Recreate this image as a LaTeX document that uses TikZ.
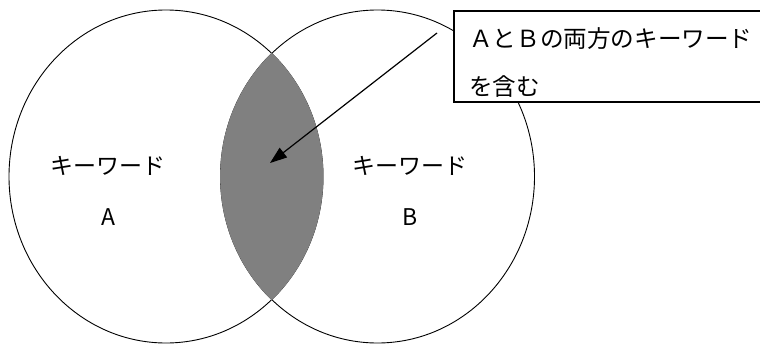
\documentclass[tikz,border=0pt]{standalone}
\usepackage{fontspec}
\setmainfont{Noto Sans CJK JP}
\usetikzlibrary{shapes.geometric,arrows.meta}
\definecolor{lensgray}{HTML}{808080}
\begin{document}
\begin{tikzpicture}[x=1pt,y=-1pt,
  venn/.style={ellipse, draw=black, line width=0.9pt, inner sep=0pt, minimum width=314pt, minimum height=333pt},
  lbl/.style={font=\fontsize{23}{27}\selectfont, inner sep=0pt},
  notelbl/.style={font=\fontsize{23.6}{27}\selectfont, inner sep=0pt, anchor=west},
  notebox/.style={draw=black, line width=1.6pt, fill=white, inner sep=0pt, anchor=north west, minimum width=312pt, minimum height=91pt},
  pointer/.style={draw=black, line width=1.2pt, -{Triangle[length=17pt,width=12pt]}}]
\useasboundingbox (0,0) rectangle (760,345);
\fill[white] (0,0) rectangle (760,345);
% circles
\node[venn] (A) at (166,176.5) {};
\node[venn] (B) at (377.5,176.5) {};
% intersection
\begin{scope}
  \clip (166,176.5) ellipse [x radius=157.4, y radius=166.9];
  \fill[lensgray] (377.5,176.5) ellipse [x radius=157.4, y radius=166.9];
\end{scope}
% labels
\node[lbl] (ka) at (108,166) {キーワード};
\node[lbl] (la) at (108,217) {A};
\node[lbl] (kb) at (410,166) {キーワード};
\node[lbl] (lb) at (410,217) {B};
% callout
\node[notebox] (note) at (453,10) {};
\node[notelbl] (t1) at (469,39) {ＡとＢの両方のキーワード};
\node[notelbl] (t2) at (469,87) {を含む};
% arrow
\coordinate (tail) at (437,33);
\coordinate (tip) at (270,163);
\draw[pointer] (tail) -- (tip);
\end{tikzpicture}
\end{document}
